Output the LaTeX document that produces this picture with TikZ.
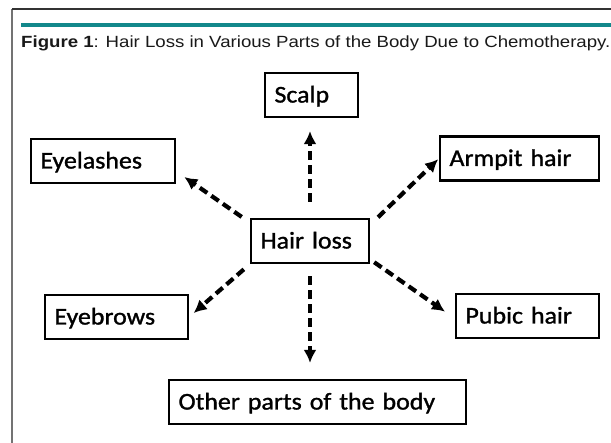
\documentclass[tikz,border=0pt]{standalone}
\usepackage{fontspec}
\newfontfamily\legende{Liberation Sans}[FakeStretch=1.15]
\newfontfamily\boite{Carlito}[FakeStretch=1.08,FakeBold=1.2]
\usetikzlibrary{arrows.meta}
\definecolor{sarcelle}{RGB}{18,136,139}

\begin{document}
\begin{tikzpicture}[
  x=1pt, y=-1pt,
  zone/.style   = {draw, line width=2.2pt, inner xsep=9.5pt, align=left,
                   minimum height=44pt, text height=21pt, text depth=6pt,
                   font=\boite\fontsize{24}{26}\selectfont},
  fleche/.style = {-{Latex[length=13pt,width=13pt]}, line width=4.2pt,
                   dash pattern=on 9pt off 5pt},
  cadre/.style  = {line width=1.2pt}
]
\useasboundingbox (0,0) rectangle (611,443);
\draw[cadre, black!55] (12,443) -- (12,9);
\draw[cadre, black!80] (12,9) -- (611,9);
\fill[sarcelle] (21,23) rectangle (611,27);
\node[anchor=base west, inner sep=0pt, text=black!90,
      font=\legende\fontsize{16.2}{18}\selectfont] (titre) at (21,48)
  {\textbf{Figure 1}: Hair Loss in Various Parts of the Body Due to Chemotherapy.};

\node[zone, text width=99pt]  (perte)    at (310,241)   {Hair loss};
\node[zone, text width=74pt]  (cuir)     at (311.5,95)  {Scalp};
\node[zone, text width=125pt] (cils)     at (103,161)   {Eyelashes};
\node[zone, text width=140pt] (aisselle) at (519.5,158.5) {Armpit hair};
\node[zone, text width=124pt] (sourcils) at (116.5,317) {Eyebrows};
\node[zone, text width=124pt] (pubis)    at (527.5,316) {Pubic hair};
\node[zone, text width=278pt] (autres)   at (317.5,402) {Other parts of the body};

\draw[fleche, shorten <=16pt, shorten >=13pt] (perte.north) -- (perte.north |- cuir.south);
\draw[fleche, shorten <=12pt, shorten >=16pt] (perte.south) -- (perte.south |- autres.north);
\draw[fleche, shorten <=10pt, shorten >=10pt] (perte.163) -- (cils.-8);
\draw[fleche, shorten <=11pt, shorten >=1pt]  (perte.15)  -- (aisselle.west);
\draw[fleche, shorten <=8pt,  shorten >=6pt]  (perte.201) -- (sourcils.east);
\draw[fleche, shorten <=5pt,  shorten >=12pt] (perte.-17) -- (pubis.182);
\end{tikzpicture}
\end{document}
